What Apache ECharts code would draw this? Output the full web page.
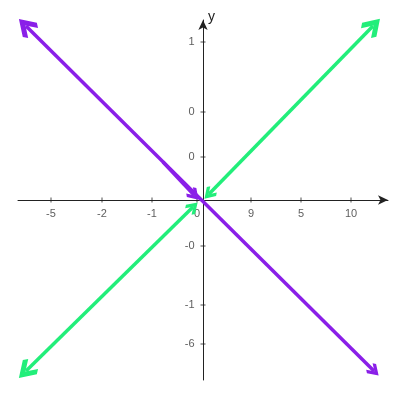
<!DOCTYPE html><html><head><meta charset="utf-8"><script src="https://cdn.jsdelivr.net/npm/echarts@6/dist/echarts.min.js"></script></head><body style="margin:0"><div id="c" style="width:400px;height:400px"></div><script>
var xTickPos=[-152,-101,-51,-6,48,98,148];
var xTickLabels=["-5","-2","-1","0","9","5","10"];
var yTickPos=[158,88,43,-46,-105,-144];
var yTickLabels=["1","0","0","-0","-1","-6"];
var purple=[[-177,174],[171,-171]];
var purpleInner=[[-40,38],[-9,5]];
var green1=[[170,174],[6,6]];
var green2=[[-177,-171],[-10,-7]];
var chev='path://M0,10 L10,0 L20,10 L17,13 L10,6 L3,13 Z';
var chart=echarts.init(document.getElementById('c'));
function ln(pts,color,sym){return {type:'lines',coordinateSystem:'cartesian2d',polyline:false,symbol:sym,symbolSize:[20,13],lineStyle:{color:color,width:3.5,opacity:1},data:[{coords:pts}],z:5};}
chart.setOption({
 animation:false,
 grid:{left:18,width:370,top:20,height:360},
 xAxis:{type:'value',min:-185,max:185,splitLine:{show:false},axisLabel:{show:false},axisTick:{show:false},
  axisLine:{onZero:true,lineStyle:{color:'#222'},symbol:['none','arrow'],symbolSize:[7,10]}},
 yAxis:{type:'value',min:-180,max:180,splitLine:{show:false},axisLabel:{show:false},axisTick:{show:false},
  axisLine:{onZero:true,lineStyle:{color:'#222'},symbol:['none','arrow'],symbolSize:[7,10]}},
 graphic:[{type:'text',left:208,top:10,style:{text:'y',fontSize:14,fill:'#222',fontFamily:'Liberation Sans'}}],
 series:[
  {type:'scatter',symbol:'rect',symbolSize:[1,5],itemStyle:{color:'#222'},data:xTickPos.map(function(v,i){return [v,0,xTickLabels[i]];}),
   label:{show:true,position:'bottom',distance:6,color:'#333',fontSize:11,fontFamily:'Liberation Sans',formatter:function(p){return p.data[2];}}},
  {type:'scatter',symbol:'rect',symbolSize:[5,1],itemStyle:{color:'#222'},data:yTickPos.map(function(v,i){return [0,v,yTickLabels[i]];}),
   label:{show:true,position:'left',distance:6,color:'#333',fontSize:11,fontFamily:'Liberation Sans',formatter:function(p){return p.data[2];}}},
  ln(purple,'#8a1fe8',[chev,chev]),
  ln(purpleInner,'#8a1fe8',['none',chev]),
  ln(green1,'#22ee7a',[chev,chev]),
  ln(green2,'#22ee7a',[chev,chev])
 ]});
</script></body></html>
